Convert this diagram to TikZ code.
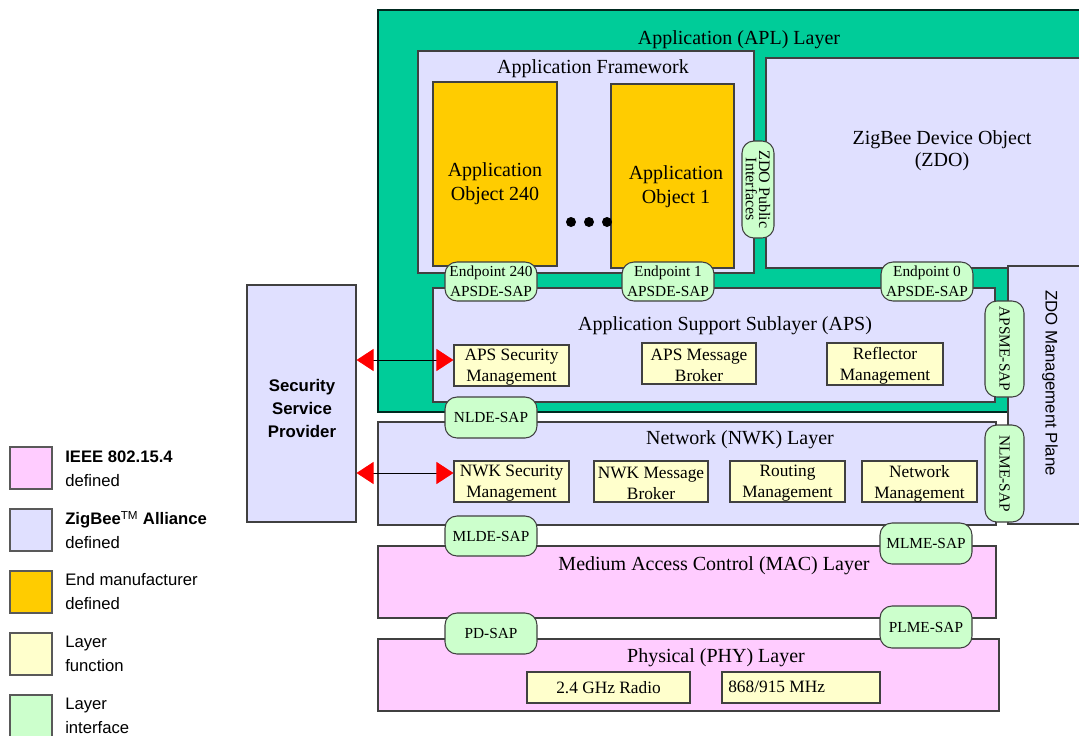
\documentclass[tikz,border=0pt]{standalone}
\usepackage{fontspec}
\setmainfont{Liberation Serif}
\setsansfont{Liberation Sans}
\usetikzlibrary{fit,arrows.meta}
\definecolor{aplgreen}{RGB}{0,204,153}
\definecolor{zbblue}{RGB}{224,224,255}
\definecolor{ieeepink}{RGB}{255,204,255}
\definecolor{mforange}{RGB}{255,204,0}
\definecolor{funcyellow}{RGB}{255,255,204}
\definecolor{ifgreen}{RGB}{204,255,204}
\tikzset{
  rbox/.style={draw=black!75, line width=0.8pt, inner sep=0pt},
  zbbox/.style={rbox, fill=zbblue},
  ieeebox/.style={rbox, fill=ieeepink},
  aplbox/.style={draw=black!80!aplgreen, line width=0.9pt, inner sep=0pt, fill=aplgreen},
  objbox/.style={rbox, fill=mforange},
  objtxt/.style={font=\fontsize{15}{18}\selectfont, align=center, inner sep=0pt},
  funcbox/.style={rbox, fill=funcyellow},
  functxt/.style={font=\fontsize{13}{15.75}\selectfont, align=center, inner sep=0pt, yshift=-1.5pt},
  pill/.style={draw=black!75, line width=0.8pt, fill=ifgreen, rounded corners=9pt, inner sep=0pt},
  pilltxt/.style={font=\fontsize{11.5}{15}\selectfont, align=center, inner sep=0pt},
  ttl/.style={font=\fontsize{15}{16.5}\selectfont, inner sep=0pt, align=center},
  legbox/.style={draw=black!65, line width=0.8pt, inner sep=0pt},
  legtext/.style={font=\sffamily\fontsize{12.5}{18}\selectfont, align=left, anchor=west, inner sep=0pt},
  redtip/.tip={Triangle[length=12.75pt,width=16.5pt,color=red]},
  dblarrow/.style={{redtip}-{redtip}, line width=0.7pt, draw=black},
  dot/.style={circle, fill=black, inner sep=0pt, minimum size=7.5pt},
}
\begin{document}
\begin{tikzpicture}[x=0.75pt,y=-0.75pt]
\useasboundingbox (0,0) rectangle (1079,736);

% Application layer
\node[aplbox, fit={(378,10)(1095,412)}] (apl) {};
\node[ttl] (apltitle) at (739,40) {Application (APL) Layer};

% Application framework
\node[zbbox, fit={(418,51)(754,273)}] (af) {};
\node[ttl] (aftitle) at (593,69) {Application Framework};
\node[objbox, fit={(433,82)(557,266)}] (ao240) {};
\node[objtxt] (ao240t) at (495,184) {Application\\Object 240};
\node[objbox, fit={(611,84)(734,268)}] (ao1) {};
\node[objtxt] (ao1t) at (676,187) {Application\\Object 1};
\node[dot] (d1) at (571,222) {};
\node[dot] (d2) at (589,222) {};
\node[dot] (d3) at (607,222) {};

% ZDO
\node[zbbox, fit={(766,58)(1095,268)}] (zdo) {};
\node[ttl] (zdotitle) at (942,151) {ZigBee Device Object\\(ZDO)};

% ZDO management plane
\node[zbbox, fit={(1008,266)(1095,524)}] (plane) {};
\node[rotate=-90, font=\sffamily\fontsize{12.6}{15}\selectfont, inner sep=0pt] (planetext) at (1050,383) {ZDO Management Plane};

% APS
\node[zbbox, fit={(433,288)(995,402)}] (aps) {};
\node[ttl] (apstitle) at (725,326) {Application Support Sublayer (APS)};
\node[funcbox, fit={(454,345)(569,386)}] (apssec) {};
\node[functxt] (apssect) at (apssec.center) {APS Security\\Management};
\node[funcbox, fit={(642,343)(756,384)}] (apsmsg) {};
\node[functxt] (apsmsgt) at (apsmsg.center) {APS Message\\Broker};
\node[funcbox, fit={(827,343)(943,385)}] (refl) {};
\node[functxt] (reflt) at (refl.center) {Reflector\\Management};

% NWK
\node[zbbox, fit={(378,422)(996,525)}] (nwk) {};
\node[ttl] (nwktitle) at (740,440) {Network (NWK) Layer};
\node[funcbox, fit={(454,461)(569,502)}] (nwksec) {};
\node[functxt] (nwksect) at (nwksec.center) {NWK Security\\Management};
\node[funcbox, fit={(594,461)(708,502)}] (nwkmsg) {};
\node[functxt] (nwkmsgt) at (nwkmsg.center) {NWK Message\\Broker};
\node[funcbox, fit={(730,461)(845,502)}] (routing) {};
\node[functxt] (routingt) at (routing.center) {Routing\\Management};
\node[funcbox, fit={(862,461)(977,502)}] (netmgmt) {};
\node[functxt] (netmgmtt) at (netmgmt.center) {Network\\Management};

% MAC
\node[ieeebox, fit={(378,546)(996,618)}] (mac) {};
\node[ttl] (mactitle) at (714,566) {Medium Access Control (MAC) Layer};

% PHY
\node[ieeebox, fit={(378,639)(999,711)}] (phy) {};
\node[ttl] (phytitle) at (716,658) {Physical (PHY) Layer};
\node[funcbox, fit={(527,672)(690,703)}] (radio24) {};
\node[functxt, yshift=1.5pt] (radio24t) at (radio24.center) {2.4 GHz Radio};
\node[funcbox, fit={(722,672)(880,703)}] (radio868) {};
\node[functxt, anchor=west, yshift=1.5pt] (radio868t) at (728,687) {868/915 MHz};

% Interfaces (pills)
\node[pill, fit={(445,262)(537,301)}] (ep240) {};
\node[pilltxt] (ep240t) at (ep240.center) {Endpoint 240\\APSDE-SAP};
\node[pill, fit={(622,262)(714,301)}] (ep1) {};
\node[pilltxt] (ep1t) at (ep1.center) {Endpoint 1\\APSDE-SAP};
\node[pill, fit={(881,262)(973,301)}] (ep0) {};
\node[pilltxt] (ep0t) at (ep0.center) {Endpoint 0\\APSDE-SAP};
\node[pill, rotate=-90, minimum width=72.75pt, minimum height=24pt] (zdopub) at (758,189.5) {};
\node[pilltxt, rotate=-90, font=\fontsize{12}{10}\selectfont] (zdopubt) at (zdopub.center) {ZDO Public\\Interfaces};
\node[pill, rotate=-90, minimum width=72pt, minimum height=29.25pt] (apsme) at (1004.5,349) {};
\node[pilltxt, rotate=-90] (apsmet) at (apsme.center) {APSME-SAP};
\node[pill, rotate=-90, minimum width=72.75pt, minimum height=29.25pt] (nlme) at (1004.5,473.5) {};
\node[pilltxt, rotate=-90] (nlmet) at (nlme.center) {NLME-SAP};
\node[pill, fit={(445,397)(537,438)}] (nlde) {};
\node[pilltxt] (nldet) at (nlde.center) {NLDE-SAP};
\node[pill, fit={(445,516)(537,556)}] (mlde) {};
\node[pilltxt] (mldet) at (mlde.center) {MLDE-SAP};
\node[pill, fit={(880,523)(972,564)}] (mlme) {};
\node[pilltxt] (mlmet) at (mlme.center) {MLME-SAP};
\node[pill, fit={(445,613)(537,654)}] (pd) {};
\node[pilltxt] (pdt) at (pd.center) {PD-SAP};
\node[pill, fit={(880,606)(972,648)}] (plme) {};
\node[pilltxt] (plmet) at (plme.center) {PLME-SAP};

% Security service provider
\node[zbbox, fit={(247,285)(356,522)}] (ssp) {};
\node[font=\sffamily\bfseries\fontsize{12.6}{17.25}\selectfont, align=center, inner sep=0pt] (ssptext) at (302,408) {Security\\Service\\Provider};

% Arrows
\draw[dblarrow] (ssp.east |- 0,360) -- (apssec.west |- 0,360);
\draw[dblarrow] (ssp.east |- 0,473) -- (nwksec.west |- 0,473);

% Legend
\node[legbox, fill=ieeepink, fit={(10,447)(52,489)}] (lg1) {};
\node[legbox, fill=zbblue, fit={(10,509)(52,551)}] (lg2) {};
\node[legbox, fill=mforange, fit={(10,571)(52,613)}] (lg3) {};
\node[legbox, fill=funcyellow, fit={(10,633)(52,675)}] (lg4) {};
\node[legbox, fill=ifgreen, fit={(10,695)(52,745)}] (lg5) {};
\node[legtext] (lt1) at (65,469) {\textbf{IEEE 802.15.4}\\defined};
\node[legtext] (lt2) at (65,530) {\textbf{ZigBee}\textsuperscript{TM} \textbf{Alliance}\\defined};
\node[legtext] (lt3) at (65,592) {End manufacturer\\defined};
\node[legtext] (lt4) at (65,654) {Layer\\function};
\node[legtext] (lt5) at (65,716) {Layer\\interface};
\end{tikzpicture}
\end{document}
